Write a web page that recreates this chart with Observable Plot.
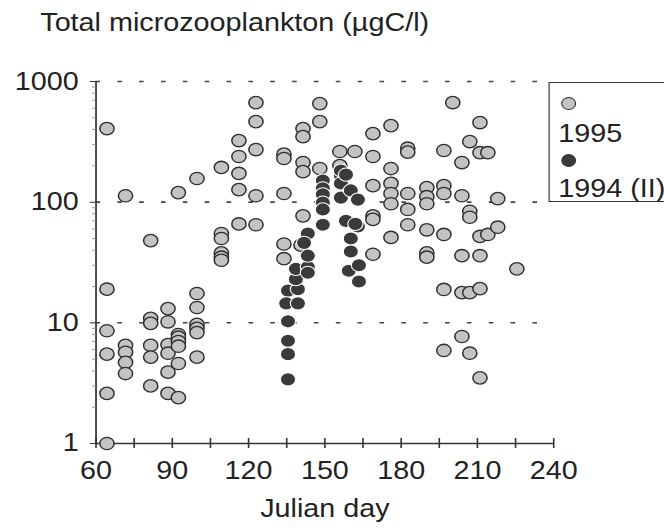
<!DOCTYPE html>
<html><head><meta charset="utf-8">
<script src="https://cdn.jsdelivr.net/npm/d3@7"></script>
<script src="https://cdn.jsdelivr.net/npm/@observablehq/plot@0.6"></script>
<style>
body{margin:0;background:#fff;}
#wrap{width:664px;height:528px;overflow:hidden;position:relative;background:#fff;}
#inner{width:577.39px;transform:scaleX(1.15);transform-origin:0 0;position:relative;font-family:"Liberation Sans",Arial,sans-serif;color:#222;}
#title{height:40px;line-height:40px;font-size:25px;padding-left:35px;padding-top:2px;box-sizing:border-box;white-space:nowrap;}
#legend{position:absolute;left:476.5px;top:82px;width:140px;height:120px;border:1.5px solid #333;box-sizing:border-box;}
#legend .dot{position:absolute;width:13px;height:13px;border-radius:50%;box-sizing:border-box;}
#legend .txt{position:absolute;font-size:25px;line-height:25px;white-space:nowrap;}
</style>
</head><body>
<div id="wrap"><div id="inner">
<div id="title">Total microzooplankton (µgC/l)</div>
<div id="chart"></div>
<div id="legend"></div>
</div></div>
<script>
// 1995 series: sampling days and the values measured on each day
const days1995 = [64.3, 71.6, 81.5, 88.3, 92.4, 99.7, 109.3, 116.2, 122.9, 133.9, 140.6, 141.4, 148, 155.9, 161.8, 168.9, 176, 182.6, 190.1, 196.8, 200.3, 203.9, 207, 211, 214.1, 218, 225.5];
const vals1995 = [
  [407, 19, 8.6, 5.5, 2.6, 1.0],
  [113, 6.5, 5.7, 4.7, 3.8],
  [48, 10.9, 9.9, 6.5, 5.2, 3.0],
  [13.1, 10.2, 6.6, 5.6, 3.9, 2.6],
  [120, 8.0, 7.6, 7.0, 6.4, 4.6, 2.4],
  [157, 17.5, 13.4, 9.7, 9.0, 8.3, 5.2],
  [194, 55, 50, 38, 35, 33],
  [324, 239, 173, 127, 66],
  [668, 465, 273, 113, 65],
  [250, 230, 118, 45, 34],
  [44],
  [407, 349, 213, 179, 77],
  [656, 465, 190],
  [263, 201],
  [263],
  [370, 239, 137, 77, 72, 37],
  [431, 190, 143, 118, 97, 51],
  [280, 260, 118, 87, 65],
  [132, 111, 97, 59, 38, 35],
  [268, 137, 118, 54, 18.9, 5.9],
  [669],
  [213, 113, 36, 17.8, 7.7],
  [318, 84, 75, 17.8, 5.6],
  [457, 257, 52, 36, 19.2, 3.5],
  [257, 54],
  [107, 62],
  [28]
];
// 1994 (II) series
const days1994 = [135.5, 134.8, 139.4, 138.6, 143.3, 141.8, 149.2, 156.3, 158.3, 160.2, 163, 162, 159.4, 163.4];
const vals1994 = [
  [18.5, 10.3, 7.1, 5.5, 3.4],
  [14.5],
  [19, 14.5],
  [23, 28],
  [29, 26, 55, 36],
  [46],
  [151, 130, 116, 99, 87, 65],
  [166, 143, 109, 183],
  [169, 70],
  [125, 50, 39],
  [105, 63],
  [66],
  [27],
  [30, 22]
];
const seriesNames = ["1995", "1994 (II)"];
const xTickLabels = [60, 90, 120, 150, 180, 210, 240];
const xMinorTicks = [60, 75, 90, 105, 120, 135, 150, 165, 180, 195, 210, 225, 240];
const yTickLabels = [1, 10, 100, 1000];
const yMinorTicks = [2,3,4,5,6,7,8,9,20,30,40,50,60,70,80,90,200,300,400,500,600,700,800,900];
const gridValues = [10, 100, 1000];

const lightFill = "#c3c3c3", darkFill = "#3a3a3a";

const rows1995 = [], rows1994 = [];
days1995.forEach((d, i) => vals1995[i].forEach(v => rows1995.push({day: d, value: v, series: seriesNames[0]})));
days1994.forEach((d, i) => vals1994[i].forEach(v => rows1994.push({day: d, value: v, series: seriesNames[1]})));

const W = 577.39;
const chart = Plot.plot({
  width: W, height: 488,
  marginLeft: 83, marginRight: W - 481, marginTop: 41, marginBottom: 85,
  x: {domain: [60, 240], label: null},
  y: {type: "log", domain: [1, 1000], label: null},
  style: {fontFamily: "'Liberation Sans', Arial, sans-serif", fontSize: "25px", color: "#222", background: "transparent"},
  marks: [
    Plot.ruleY(gridValues, {stroke: "#444", strokeWidth: 1.6, strokeDasharray: "4,15"}),
    Plot.ruleX([60], {stroke: "#333", strokeWidth: 1.5}),
    Plot.ruleY([1], {stroke: "#333", strokeWidth: 1.5}),
    Plot.ruleX(xMinorTicks, {x: d => d, y1: 1, y2: 1, insetTop: -5, insetBottom: -5, stroke: "#333", strokeWidth: 1.4}),
    Plot.axisX({ticks: xTickLabels, tickSize: 0, tickPadding: 18, tickFormat: d => String(d), label: null, fontSize: 25}),
    Plot.axisY({ticks: yTickLabels, tickSize: 5, tickPadding: 10, tickFormat: d => String(d), label: null, fontSize: 25, stroke: "#333"}),
    Plot.axisY({ticks: yMinorTicks, tickSize: 3, text: null, label: null, stroke: "#999"}),
    Plot.dot(rows1995, {x: "day", y: "value", r: 6.2, fill: lightFill, stroke: "#2e2e2e", strokeWidth: 1.3}),
    Plot.dot(rows1994, {x: "day", y: "value", r: 6.6, fill: darkFill, stroke: "#fff", strokeWidth: 1}),
    Plot.text(["Julian day"], {frameAnchor: "bottom", dy: 74, fontSize: 25, fill: "#222"})
  ]
});
document.getElementById("chart").appendChild(chart);

// legend
const lg = document.getElementById("legend");
const items = [
  {name: seriesNames[0], fill: lightFill, stroke: "#2e2e2e", dotTop: 13.5, txtTop: 38},
  {name: seriesNames[1], fill: darkFill, stroke: darkFill, dotTop: 70.5, txtTop: 93}
];
items.forEach(it => {
  const d = document.createElement("div");
  d.className = "dot";
  d.style.left = "10px"; d.style.top = it.dotTop + "px";
  d.style.background = it.fill; d.style.border = "1.3px solid " + it.stroke;
  lg.appendChild(d);
  const t = document.createElement("div");
  t.className = "txt";
  t.style.left = "8px"; t.style.top = it.txtTop + "px";
  t.textContent = it.name;
  lg.appendChild(t);
});
</script>
</body></html>
